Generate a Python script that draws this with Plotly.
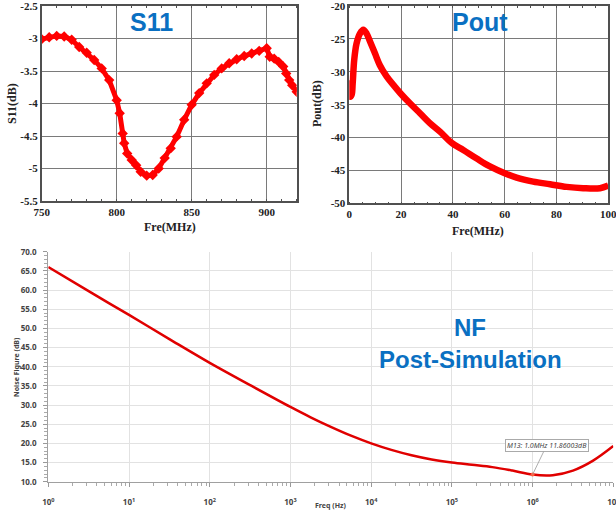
import plotly.graph_objects as go

# ---------------- data ----------------
s11_freq = [750, 755, 760, 765, 770, 775, 780, 785, 790, 795, 800, 802, 804, 805, 807, 810, 813, 816,
            820, 824, 828, 832, 836, 840, 845, 850, 855, 860, 865, 870, 875, 880, 885, 890, 895,
            900, 902, 905, 908, 911, 913, 915, 917, 920]
s11_db = [-3.01, -2.98, -2.96, -2.97, -3.02, -3.13, -3.22, -3.33, -3.46, -3.64, -3.95, -4.15, -4.46,
          -4.61, -4.77, -4.87, -4.95, -5.05, -5.11, -5.10, -5.00, -4.84, -4.69, -4.51, -4.25, -4.02,
          -3.84, -3.69, -3.56, -3.46, -3.38, -3.32, -3.27, -3.23, -3.19, -3.15, -3.28, -3.31, -3.36,
          -3.43, -3.54, -3.64, -3.72, -3.82]

pout_freq = [0, 0.3, 0.9, 1.3, 1.9, 2.8, 4.1, 5.4, 6.7, 8.0, 9.9, 11.8, 14.4, 17.0, 19.8, 23.4, 27.3,
             31.1, 35.0, 39.8, 44.0, 49.2, 54.3, 59.8, 64.6, 71.0, 77.5, 83.9, 90.3, 96.8, 100]
pout_db = [-31.3, -33.8, -33.5, -31.8, -28.2, -25.7, -24.2, -23.6, -24.2, -25.4, -27.2, -29.0, -30.7,
           -32.0, -33.3, -34.8, -36.3, -37.8, -39.1, -40.9, -41.9, -43.2, -44.4, -45.4, -46.1, -46.7,
           -47.1, -47.5, -47.7, -47.7, -47.3]

nf_freq = [1e0, 10**0.5, 1e1, 10**1.5, 1e2, 10**2.5, 1e3, 10**3.25, 10**3.5, 10**3.75, 1e4, 10**4.25,
           10**4.5, 10**4.75, 1e5, 10**5.25, 10**5.5, 10**5.75, 1e6, 10**6.25, 10**6.5, 10**6.75, 1e7]
nf_db = [66.0, 59.7, 53.5, 47.2, 41.0, 35.2, 29.5, 26.8, 24.3, 22.0, 20.0, 18.3, 16.9, 15.8, 15.0,
         14.4, 13.8, 12.9, 11.86, 11.7, 12.9, 15.5, 19.3]

marker_freq = [1e6]
marker_db = [11.86003]
marker_label = "M13: 1.0MHz 11.86003dB"

s11_xticks = [750, 800, 850, 900]
s11_yticks = [-5.5, -5, -4.5, -4, -3.5, -3, -2.5]
s11_yticklabels = ["-5.5", "-5", "-4.5", "-4", "-3.5", "-3", "-2.5"]
pout_xticks = [0, 20, 40, 60, 80, 100]
pout_yticks = [-50, -45, -40, -35, -30, -25, -20]
pout_yticklabels = ["-50", "-45", "-40", "-35", "-30", "-25", "-20"]
nf_xticks = [1e0, 1e1, 1e2, 1e3, 1e4, 1e5, 1e6, 1e7]
nf_xticklabels = ["10<sup>%d</sup>" % i for i in range(8)]
nf_yticks = [10, 15, 20, 25, 30, 35, 40, 45, 50, 55, 60, 65, 70]

W, H = 616, 512
def px(x): return x / W
def py(y): return 1 - y / H

RED = "#ff0000"
BLUE = "#0a70c2"
SERIF = "Liberation Serif"

fig = go.Figure()
fig.add_trace(go.Scatter(x=s11_freq, y=s11_db, mode="lines+markers", xaxis="x", yaxis="y",
                         line=dict(color=RED, width=5),
                         marker=dict(symbol="diamond", size=8, color=RED), showlegend=False))
fig.add_trace(go.Scatter(x=pout_freq, y=pout_db, mode="lines", xaxis="x2", yaxis="y2",
                         line=dict(color=RED, width=6.5, shape="spline"), showlegend=False))
fig.add_trace(go.Scatter(x=nf_freq, y=nf_db, mode="lines", xaxis="x3", yaxis="y3",
                         line=dict(color="#e00000", width=2.5, shape="spline"), showlegend=False))
fig.add_trace(go.Scatter(x=marker_freq, y=marker_db, mode="markers", xaxis="x3", yaxis="y3",
                         marker=dict(size=4, color="#ff6040"), showlegend=False))

top_axis = dict(showline=True, linecolor="#505050", linewidth=1.5, mirror="ticks", automargin=False,
                showgrid=True, gridcolor="#7a7a7a", gridwidth=1, zeroline=False, ticks="",
                ticklabeloverflow="allow",
                tickfont=dict(family=SERIF, size=11, color="#222", weight="bold"))

nf_axis = dict(showline=True, linecolor="#a0a0a0", automargin=False, ticklabeloverflow="allow",
               showgrid=True, gridcolor="#e2e2e2", zeroline=False, ticks="outside", ticklen=4,
               tickcolor="#999",
               tickfont=dict(family="Noto Sans", size=8, color="#444", weight="bold"))

fig.update_layout(
    width=W, height=H, margin=dict(l=0, r=0, t=0, b=0),
    paper_bgcolor="white", plot_bgcolor="white",
    xaxis=dict(top_axis, domain=[px(41.7), px(296.7)], range=[750, 920], tickvals=s11_xticks,
               anchor="y", minor=dict(ticks="inside", ticklen=2, tickcolor="#505050", dtick=10,
                                      showgrid=False)),
    yaxis=dict(top_axis, domain=[py(201), py(6)], range=[-5.5, -2.5], tickvals=s11_yticks,
               ticktext=s11_yticklabels, anchor="x"),
    xaxis2=dict(top_axis, domain=[px(349.3), px(608.3)], range=[0, 100], tickvals=pout_xticks,
                anchor="y2", minor=dict(ticks="inside", ticklen=2, tickcolor="#505050", dtick=5,
                                        showgrid=False)),
    yaxis2=dict(top_axis, domain=[py(203.3), py(6)], range=[-50, -20], tickvals=pout_yticks,
                ticktext=pout_yticklabels, anchor="x2"),
    xaxis3=dict(nf_axis, type="log", domain=[px(48.3), px(613.3)], range=[0, 7], tickvals=nf_xticks,
                ticktext=nf_xticklabels, anchor="y3", ticklabelstandoff=9,
                minor=dict(ticks="outside", ticklen=3, tickcolor="#aaa", dtick="D1", showgrid=False)),
    yaxis3=dict(nf_axis, domain=[py(481.7), py(251.7)], range=[10, 70], tickvals=nf_yticks,
                tickformat=".1f", anchor="x3", ticklabelstandoff=5,
                minor=dict(ticks="outside", ticklen=3, tickcolor="#aaa", dtick=1, showgrid=False)),
)

ann = [
    dict(text="<b>S11(dB)</b>", x=px(12), y=py(104), textangle=-90,
         font=dict(family=SERIF, size=12, color="#222")),
    dict(text="<b>Fre(MHz)</b>", x=px(170), y=py(226.5), font=dict(family=SERIF, size=12, color="#222")),
    dict(text="<b>Pout(dB)</b>", x=px(317), y=py(104), textangle=-90,
         font=dict(family=SERIF, size=12, color="#222")),
    dict(text="<b>Fre(MHz)</b>", x=px(478), y=py(230.5), font=dict(family=SERIF, size=12, color="#222")),
    dict(text="<b>S11</b>", x=px(151), y=py(22), font=dict(family="Liberation Sans", size=25, color=BLUE)),
    dict(text="<b>Pout</b>", x=px(480), y=py(22), font=dict(family="Liberation Sans", size=25, color=BLUE)),
    dict(text="<b>NF</b>", x=px(470), y=py(327), font=dict(family="Liberation Sans", size=24, color=BLUE)),
    dict(text="<b>Post-Simulation</b>", x=px(470), y=py(359),
         font=dict(family="Liberation Sans", size=24, color=BLUE)),
    dict(text="<b>Noise Figure (dB)</b>", x=px(16), y=py(367), textangle=-90,
         font=dict(family="Noto Sans", size=7, color="#444")),
    dict(text="<b>Freq (Hz)</b>", x=px(330), y=py(505), font=dict(family="Noto Sans", size=7, color="#444")),
]
for a in ann:
    a.update(xref="paper", yref="paper", showarrow=False, xanchor="center", yanchor="middle")
    fig.add_annotation(**a)

fig.add_annotation(x=6, y=marker_db[0], xref="x3", yref="y3", text="<i>" + marker_label + "</i>",
                   showarrow=True, arrowhead=0, arrowwidth=0.8, arrowcolor="#999", ax=14, ay=-29,
                   bgcolor="white", bordercolor="#aaa", borderwidth=1, borderpad=1,
                   font=dict(family="Noto Sans", size=7, color="#444"))

fig.write_html("out.html", config={"displayModeBar": False},
               post_script="document.body.style.margin='0px';document.body.style.overflow='hidden';")
